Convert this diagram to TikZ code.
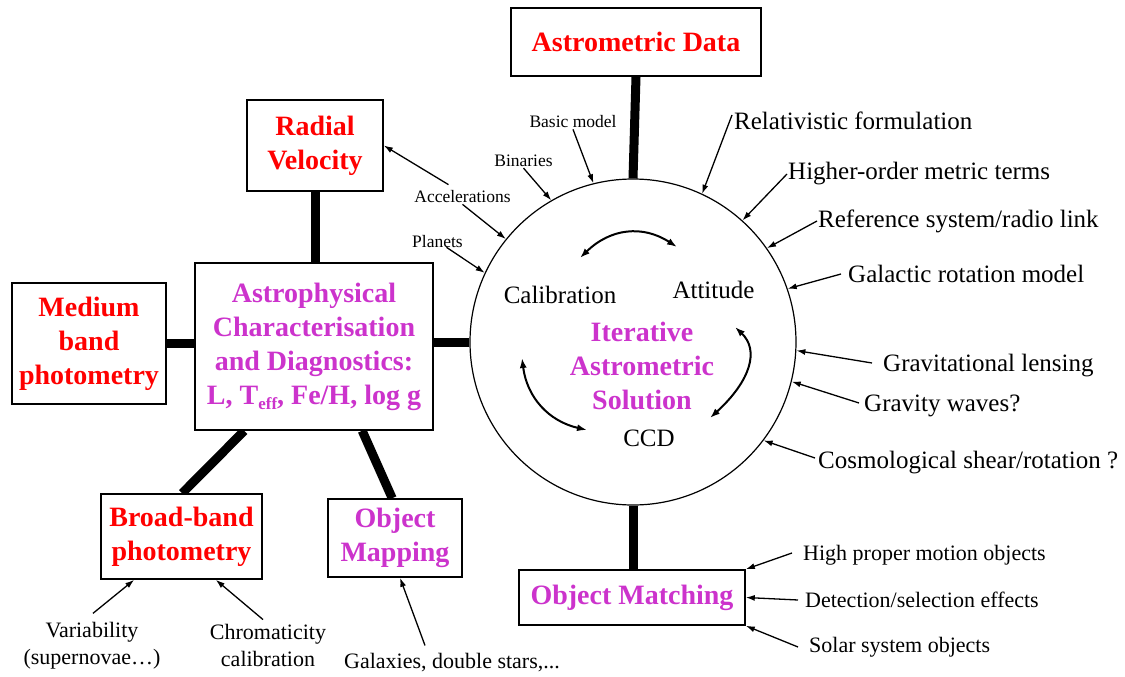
\documentclass[tikz,border=0pt]{standalone}
\usepackage{fontspec}
\setmainfont{Liberation Serif}
\usetikzlibrary{arrows.meta,calc}
\definecolor{titlered}{RGB}{255,0,0}
\definecolor{titlemag}{RGB}{204,51,204}
\pgfdeclarelayer{bg}
\pgfsetlayers{bg,main}
\newcommand{\lowsub}[1]{\raisebox{-0.42ex}{\fontsize{17}{17}\selectfont #1}}
\tikzset{
 box/.style={draw, line width=1.6pt, fill=white, align=center, inner sep=0pt},
 ttl/.style={font=\fontsize{28}{34}\selectfont\bfseries},
 redt/.style={text=titlered},
 magt/.style={text=titlemag},
 bar/.style={line width=9pt},
 lab/.style={font=\fontsize{25}{30}\selectfont, inner sep=1pt},
 small/.style={font=\fontsize{17.5}{21}\selectfont, inner sep=1pt},
 mid/.style={font=\fontsize{22}{27}\selectfont, inner sep=1pt, align=center},
 arr/.style={line width=1.3pt, -{Latex[length=9pt,width=6pt]}},
 cyc/.style={line width=2pt, {Latex[length=10pt,width=7pt]}-{Latex[length=10pt,width=7pt]}},
}
\begin{document}
\begin{tikzpicture}[x=1pt,y=-1pt]
\useasboundingbox (0,0) rectangle (1125,677);
% boxes
\node[box,ttl,redt,minimum width=250pt,minimum height=68pt] (astro) at (636,42) {Astrometric Data};
\node[box,ttl,redt,minimum width=136pt,minimum height=91pt] (radial) at (315,145.5) {Radial\\Velocity};
\node[box,ttl,redt,minimum width=154pt,minimum height=121pt] (medium) at (89,343.5) {Medium\\band\\photometry};
\node[box,ttl,magt,minimum width=238pt,minimum height=167pt] (astroph) at (314,346.5) {Astrophysical\\Characterisation\\and Diagnostics:\\L, T\lowsub{eff}, Fe/H, log g};
\node[box,ttl,redt,minimum width=161pt,minimum height=85pt] (broad) at (181.5,536.5) {Broad-band\\photometry};
\node[box,ttl,magt,minimum width=134pt,minimum height=78pt] (mapping) at (395,538) {Object\\Mapping};
\node[box,ttl,magt,minimum width=226pt,minimum height=55pt] (matching) at (632,597.5) {Object Matching};
\node[circle,draw,line width=1.2pt,minimum size=326pt,inner sep=0pt] (circ) at (633,342) {};
% thick bars
\begin{pgfonlayer}{bg}
\draw[bar] (astro.south) -- (circ.north);
\draw[bar] (radial.south) -- (radial.south |- astroph.north);
\draw[bar] (medium.east) -- (medium.east -| astroph.west);
\draw[bar] (astroph.east |- circ.center) -- (circ.west);
\draw[bar] ($(astroph.south west)+(50,0)$) -- ($(broad.north west)+(82,0)$);
\draw[bar] ($(astroph.south west)+(168,0)$) -- ($(mapping.north west)+(65,0)$);
\draw[bar] (circ.south) -- (circ.south |- matching.north);
\end{pgfonlayer}
% inner texts
\node[lab] (calib) at (560,295) {Calibration};
\node[lab] (attitude) at (713.5,290) {Attitude};
\node[lab] (ccd) at (649,438) {CCD};
\node[ttl,magt,align=center] (iter) at (642,366) {Iterative\\Astrometric\\Solution};
\draw[cyc] ($(circ.center)+(-53,-84)$) .. controls ($(circ.center)+(-22.7,-113.7)$) and ($(circ.center)+(9.7,-117.3)$) .. ($(circ.center)+(44,-95)$);
\draw[cyc] ($(circ.center)+(102,-15)$) .. controls ($(circ.center)+(126.4,8)$) and ($(circ.center)+(118,38.4)$) .. ($(circ.center)+(77,76)$);
\draw[cyc] ($(circ.center)+(-111,16)$) .. controls ($(circ.center)+(-106.1,55.2)$) and ($(circ.center)+(-84.5,79.2)$) .. ($(circ.center)+(-46,88)$);
% top-left labels
\node[small] (basic) at (573,122) {Basic model};
\node[small] (binaries) at (523.5,161) {Binaries};
\node[small] (accel) at (462.5,197) {Accelerations};
\node[small] (planets) at (437.5,242) {Planets};
\draw[arr] (basic.south) -- (circ.104);
\draw[arr] (binaries.south) -- (circ.120);
\draw[arr] (accel.south) -- (circ.141);
\draw[arr] ($(accel.north)+(-14,-5)$) -- (radial.east);
\draw[arr] ($(planets.south)+(9,-2)$) -- (circ.155);
% right labels
\node[lab,anchor=west] (relat) at (733,121) {Relativistic formulation};
\node[lab,anchor=west] (higher) at (787,174) {Higher-order metric terms};
\node[lab,anchor=west] (refsys) at (817,221) {Reference system/radio link};
\node[lab,anchor=west] (galactic) at (847,274) {Galactic rotation model};
\node[lab,anchor=west] (lensing) at (882,366) {Gravitational lensing};
\node[lab,anchor=west] (waves) at (863,406) {Gravity waves?};
\node[lab,anchor=west] (cosmo) at (817,463) {Cosmological shear/rotation ?};
\draw[arr] ($(relat.west)+(-1,-6)$) -- (circ.65.5);
\draw[arr] (higher.west) -- (circ.48.7);
\draw[arr] (refsys.west) -- (circ.35.7);
\draw[arr] ($(galactic.west)+(-6,0)$) -- (circ.19.8);
\draw[arr] ($(lensing.west)+(-10,-3)$) -- (circ.-3.6);
\draw[arr] ($(waves.west)+(-4,-3)$) -- (circ.-14.9);
\draw[arr] ($(cosmo.west)+(-2,-5)$) -- (circ.-37.2);
% object matching labels
\node[mid,anchor=west] (hpm) at (802,555) {High proper motion objects};
\node[mid,anchor=west] (detect) at (804,600) {Detection/selection effects};
\node[mid,anchor=west] (solar) at (808,647) {Solar system objects};
\draw[arr] ($(hpm.west)+(-10,-2)$) -- (matching.north east);
\draw[arr] ($(detect.west)+(-6,0)$) -- (matching.east);
\draw[arr] ($(solar.west)+(-10,0)$) -- (matching.south east);
% bottom labels
\node[mid] (variab) at (92,646) {Variability\\(supernovae…)};
\node[mid] (chroma) at (268,645) {Chromaticity\\calibration};
\node[mid] (galaxies) at (452,663) {Galaxies, double stars,...};
\draw[arr] ($(variab.north)+(1,-8)$) -- ($(broad.south west)+(34,0)$);
\draw[arr] ($(chroma.north)+(-5,-3)$) -- ($(broad.south east)+(-47,0)$);
\draw[arr] ($(galaxies.north)+(-27,-7)$) -- ($(mapping.south)+(5,0)$);
\end{tikzpicture}
\end{document}
